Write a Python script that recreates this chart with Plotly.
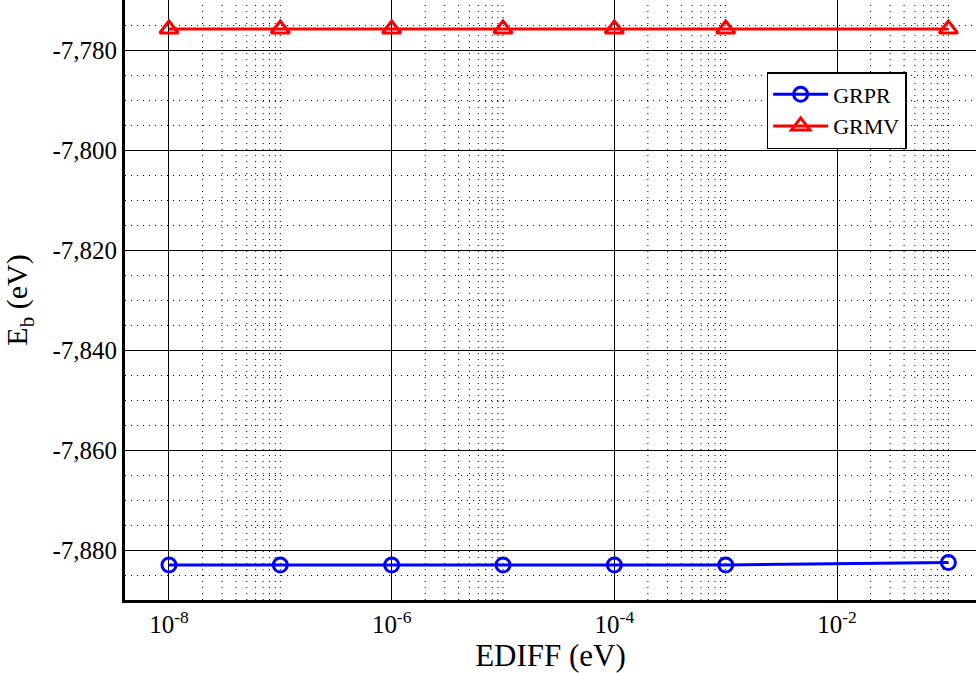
import plotly.graph_objects as go

# ---- data ----
ediff = [1e-8, 1e-7, 1e-6, 1e-5, 1e-4, 1e-3, 1e-1]
grpr = [-7.8830, -7.8830, -7.8830, -7.8830, -7.8830, -7.8830, -7.8825]
grmv = [-7.7758, -7.7758, -7.7758, -7.7758, -7.7758, -7.7758, -7.7758]

x_major = [1e-8, 1e-6, 1e-4, 1e-2]
x_major_text = ["10<sup>-8</sup>", "10<sup>-6</sup>", "10<sup>-4</sup>", "10<sup>-2</sup>"]
x_minor = [k * d for d in x_major for k in range(2, 11)]

y_major = [-7.88, -7.86, -7.84, -7.82, -7.80, -7.78]
y_major_text = [f"{v:.3f}".replace(".", ",") for v in y_major]

FONT = "Liberation Serif"

fig = go.Figure()
fig.add_trace(go.Scatter(
    x=ediff, y=grpr, name="GRPR", mode="lines+markers",
    line=dict(color="#0000ff", width=3),
    marker=dict(symbol="circle-open", size=14, color="#0000ff", line=dict(width=3, color="#0000ff")),
))
fig.add_trace(go.Scatter(
    x=ediff, y=grmv, name="GRMV", mode="lines+markers",
    line=dict(color="#ff0000", width=3),
    marker=dict(symbol="triangle-up-open", size=16, color="#ff0000", line=dict(width=3, color="#ff0000")),
))

# minor vertical dotted grid (only in the decades following each labelled decade)
shapes = [
    dict(type="line", xref="x", yref="paper", x0=v, x1=v, y0=0, y1=1, layer="below",
         line=dict(color="black", width=1, dash="1px,5px"))
    for v in x_minor
]

fig.update_layout(
    width=976, height=673,
    margin=dict(l=125, r=0, t=0, b=73),
    paper_bgcolor="white", plot_bgcolor="white",
    font=dict(family=FONT, size=25, color="black"),
    showlegend=True,
    shapes=shapes,
    legend=dict(
        x=0.754, y=0.88, xanchor="left", yanchor="top",
        bgcolor="white", bordercolor="black", borderwidth=1.5,
        font=dict(family=FONT, size=22, color="black"),
        itemwidth=55, tracegroupgap=0,
    ),
)

fig.update_xaxes(
    type="log", range=[-8.395, -0.752],
    tickmode="array", tickvals=x_major, ticktext=x_major_text,
    showgrid=True, gridcolor="black", gridwidth=1.3,
    showline=True, linecolor="black", linewidth=3,
    ticks="", zeroline=False,
    tickfont=dict(family=FONT, size=25),
    title=dict(text="EDIFF (eV)", font=dict(family=FONT, size=31), standoff=6),
)
fig.update_yaxes(
    range=[-7.89, -7.77],
    tickmode="array", tickvals=y_major, ticktext=y_major_text,
    showgrid=True, gridcolor="black", gridwidth=1.3,
    minor=dict(dtick=0.005, tick0=-7.89, showgrid=True,
               gridcolor="black", gridwidth=1, griddash="1px,5px", ticks=""),
    showline=True, linecolor="black", linewidth=3,
    ticks="", zeroline=False,
    tickfont=dict(family=FONT, size=25),
    title=dict(text="E<sub>b</sub> (eV)", font=dict(family=FONT, size=30), standoff=16),
)

fig.write_html("out.html")
